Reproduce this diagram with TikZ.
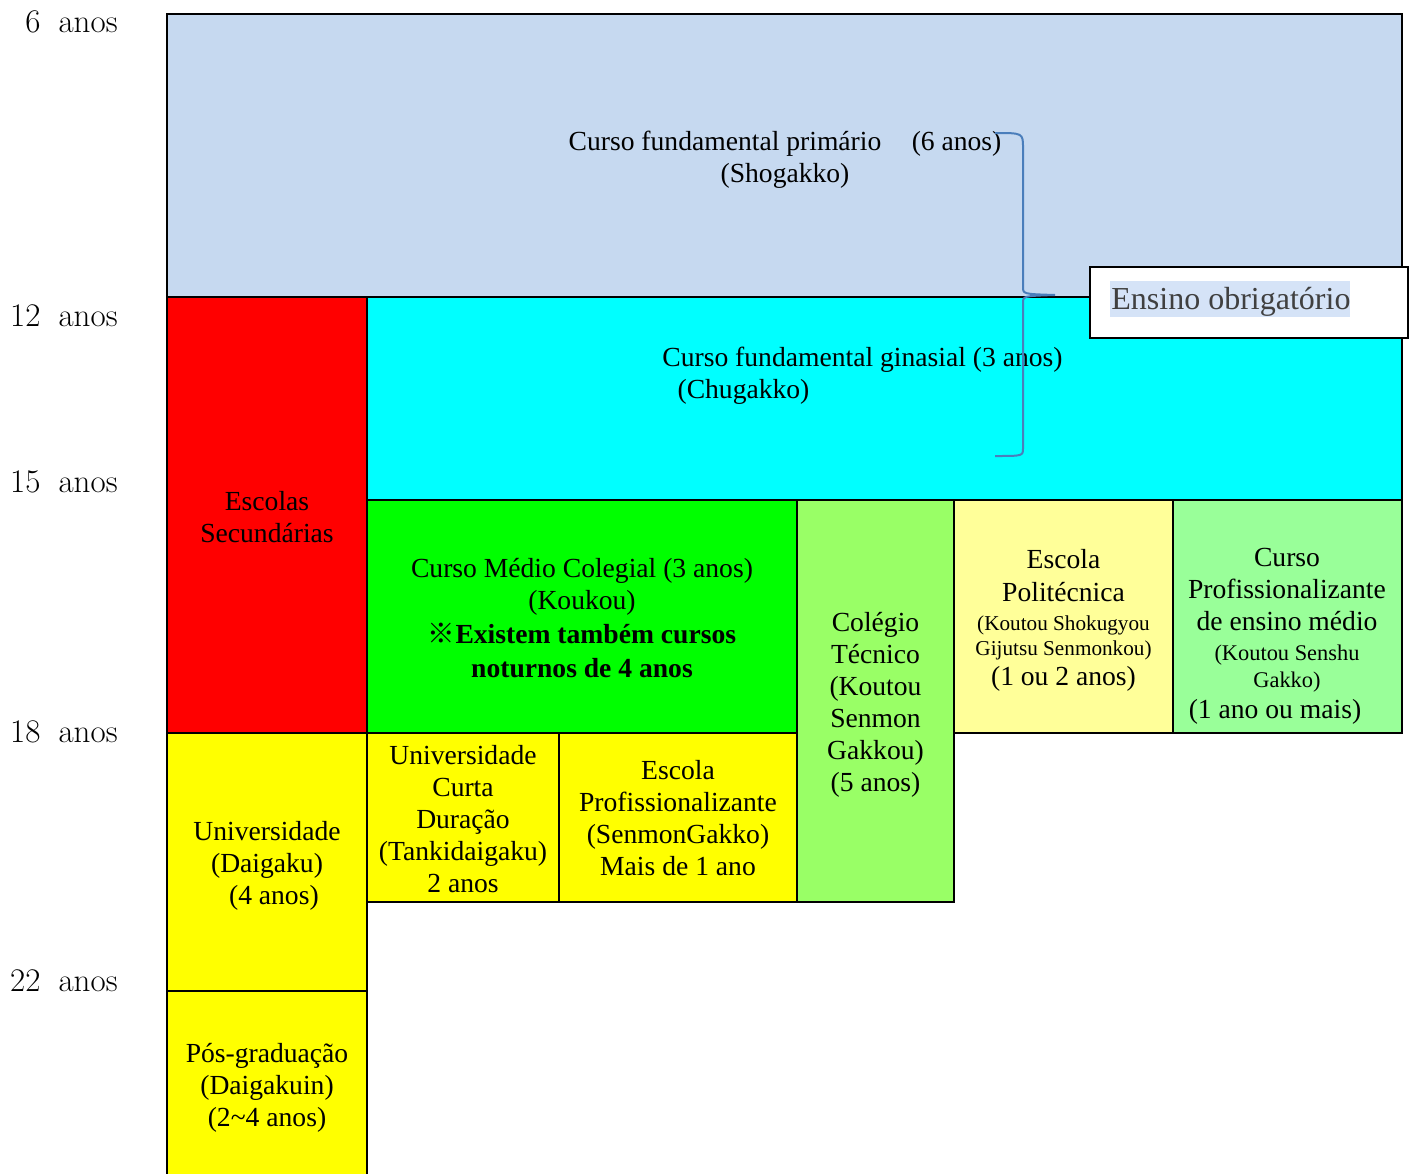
\documentclass[tikz,border=0pt]{standalone}
\usepackage{fontspec}
\newfontfamily\tnr{Liberation Serif}
\newfontfamily\cjk{Noto Sans CJK JP}
\definecolor{primblue}{HTML}{C6D9F0}
\definecolor{ginblue}{HTML}{00FFFF}
\definecolor{secred}{HTML}{FF0000}
\definecolor{kougreen}{HTML}{00FF00}
\definecolor{uniyellow}{HTML}{FFFF00}
\definecolor{tecgreen}{HTML}{99FF66}
\definecolor{polyellow}{HTML}{FFFF99}
\definecolor{profgreen}{HTML}{99FF99}
\definecolor{bracecol}{HTML}{4A7EBB}
\definecolor{hilite}{HTML}{D5E3F7}
\definecolor{greytxt}{HTML}{404040}
\tikzset{
  blk/.style={draw=black, line width=1pt},
  txt/.style={font=\tnr\fontsize{13.8}{16}\selectfont, align=center, inner sep=0pt},
  age/.style={font=\fontsize{16.5}{19}\selectfont, anchor=base east, inner sep=0pt},
}
\newcommand{\smalltxt}{\fontsize{10.6}{12.5}\selectfont}
\newcommand{\midtxt}{\fontsize{11.2}{13}\selectfont}
\begin{document}
\begin{tikzpicture}[x=0.5pt, y=-0.5pt]
  \useasboundingbox (0,0) rectangle (1412,1173);
  % boxes
  \filldraw[blk, fill=primblue] (167,14) rectangle (1402,297);
  \filldraw[blk, fill=secred] (167,297) rectangle (367,733);
  \filldraw[blk, fill=ginblue] (367,297) rectangle (1402,500);
  \filldraw[blk, fill=kougreen] (367,500) rectangle (797,733);
  \filldraw[blk, fill=tecgreen] (797,500) rectangle (954,902);
  \filldraw[blk, fill=polyellow] (954,500) rectangle (1173,733);
  \filldraw[blk, fill=profgreen] (1173,500) rectangle (1402,733);
  \filldraw[blk, fill=uniyellow] (167,733) rectangle (367,991);
  \filldraw[blk, fill=uniyellow] (367,733) rectangle (559,902);
  \filldraw[blk, fill=uniyellow] (559,733) rectangle (797,902);
  \filldraw[blk, fill=uniyellow] (167,991) rectangle (367,1185);
  % texts
  \node[txt] (prim) at (785,160) {Curso fundamental primário\hspace{1.1em}(6 anos)\\(Shogakko)};
  \node[txt, align=left, anchor=west] (gin) at (662,376) {Curso fundamental ginasial (3 anos)\\\hspace{0.55em}(Chugakko)};
  \node[txt] (sec) at (267,517) {Escolas\\Secundárias};
  \node[txt] (kou) at (582,618) {Curso Médio Colegial (3 anos)\\(Koukou)\\[1pt]{\bfseries{\cjk ※}Existem também cursos}\\[1pt]{\bfseries noturnos de 4 anos}};
  \node[txt] (tec) at (875.5,705) {Colégio\\Técnico\\(Koutou\\Senmon\\Gakkou)\\(5 anos)};
  \node[txt] (poli) at (1063.5,620) {Escola\\[0.5pt]Politécnica\\[-1.5pt]{\smalltxt(Koutou Shokugyou}\\[-3.5pt]{\smalltxt Gijutsu Senmonkou)}\\[-1pt](1 ou 2 anos)};
  \node[txt] (prof) at (1287,636) {Curso\\Profissionalizante\\de ensino médio\\[-1pt]{\midtxt(Koutou Senshu}\\[-2.5pt]{\midtxt Gakko)}\\[-0.5pt](1 ano ou mais)\hspace*{0.87em}};
  \node[txt] (dai) at (267,866) {Universidade\\(Daigaku)\\\hspace{0.5em}(4 anos)};
  \node[txt] (tan) at (463,819) {Universidade\\Curta\\Duração\\(Tankidaigaku)\\2 anos};
  \node[txt] (sen) at (678,818) {Escola\\Profissionalizante\\(SenmonGakko)\\Mais de 1 ano};
  \node[txt] (pos) at (267,1088) {Pós-graduação\\(Daigakuin)\\(2\textasciitilde4 anos)};
  % ages
  \node[age] (a6) at (118,32) {6\hspace{0.55em}anos};
  \node[age] (a12) at (118,326) {12\hspace{0.55em}anos};
  \node[age] (a15) at (118,492) {15\hspace{0.55em}anos};
  \node[age] (a18) at (118,742) {18\hspace{0.55em}anos};
  \node[age] (a22) at (118,991) {22\hspace{0.55em}anos};
  % brace and label
  \coordinate (btop) at (995,133);
  \coordinate (btip) at (1055,295);
  \coordinate (bbot) at (995,456);
  \draw[bracecol, line width=1pt] (btop) .. controls (1023,133) .. (1023,148) -- (1023,287)
    .. controls (1023,294) .. (btip) .. controls (1023,296) .. (1023,303) -- (1023,448)
    .. controls (1023,456) .. (bbot);
  \filldraw[blk, fill=white] (1090,267) rectangle (1408,338);
  \fill[hilite] (1110,281) rectangle (1350,317);
  \node[font=\tnr\fontsize{16}{19}\selectfont, text=greytxt, inner sep=0pt, anchor=west] (obrig) at (1111,302) {Ensino obrigatório};
\end{tikzpicture}
\end{document}
